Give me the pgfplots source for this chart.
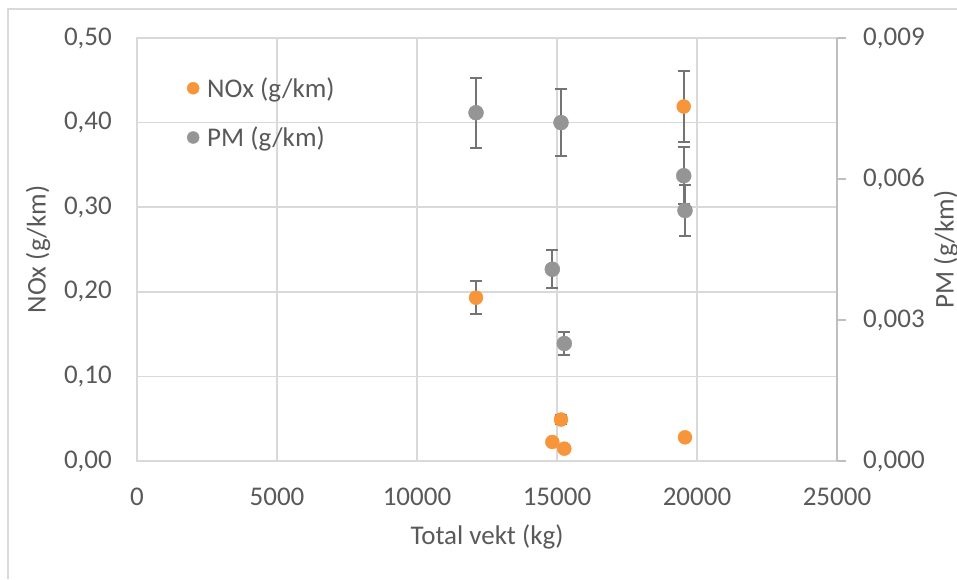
\documentclass[border=0pt]{standalone}
\usepackage{fontspec}
\setmainfont{Carlito}
\usepackage{pgfplots}
\pgfplotsset{compat=1.18}
\definecolor{nox}{HTML}{F7953A}
\definecolor{pm}{HTML}{959595}
\definecolor{errc}{HTML}{747474}
\definecolor{gridc}{HTML}{D9D9D9}
\definecolor{axc}{HTML}{BFBFBF}
\definecolor{txt}{HTML}{595959}
\newcommand\lbl{\fontsize{27}{32}\selectfont}
\begin{document}
\begin{tikzpicture}[x=1pt,y=1pt]
\useasboundingbox (0,0) rectangle (957,579);
\draw[gridc, line width=1.2pt] (8,0) -- (8,570) -- (957,570);
\begin{axis}[
  at={(137pt,118pt)}, anchor=south west,
  scale only axis, width=700pt, height=423pt,
  xmin=0, xmax=25000, ymin=0, ymax=0.5,
  xtick={0,5000,10000,15000,20000,25000},
  ytick={0,0.1,0.2,0.3,0.4,0.5},
  scaled ticks=false,
  xmajorgrids, ymajorgrids,
  grid style={gridc, line width=1.5pt},
  axis line style={gridc, line width=1.5pt},
  major tick length=0pt, tick style={draw=none},
  tick label style={font=\lbl, text=txt},
  /pgf/number format/assume math mode=true,
  yticklabel style={anchor=east, inner sep=0pt, xshift=-25pt,
    /pgf/number format/.cd, fixed, fixed zerofill, precision=2, use comma},
  xticklabel style={anchor=north, inner sep=0pt, yshift=-27pt,
    /pgf/number format/.cd, fixed, 1000 sep={}},
  xlabel={Total vekt (kg)}, ylabel={NOx (g/km)},
  xlabel style={at={(axis description cs:0.5,-0.18)}, anchor=center, font=\lbl, text=txt},
  ylabel style={at={(axis description cs:-0.1414,0.5)}, anchor=center, font=\lbl, text=txt},
]
\addplot[only marks, mark=*, mark size=7pt, color=nox,
  error bars/.cd, y dir=both, y fixed relative=0.1,
  error bar style={errc, line width=2pt},
  error mark options={rotate=90, errc, line width=2pt, mark size=6pt}]
  coordinates {
  (12107,0.193) (15143,0.049) (14832,0.0225)
  (15261,0.0146) (19525,0.419) (19571,0.028)
  };
\end{axis}
\begin{axis}[
  at={(137pt,118pt)}, anchor=south west,
  scale only axis, width=700pt, height=423pt,
  xmin=0, xmax=25000, ymin=0, ymax=0.009,
  axis x line=none, axis y line*=right,
  ytick={0,0.003,0.006,0.009},
  scaled ticks=false,
  y axis line style={axc, line width=1.5pt, -},
  ytick style={axc, line width=1.5pt},
  tick align=outside, major tick length=9pt,
  tick label style={font=\lbl, text=txt},
  /pgf/number format/assume math mode=true,
  yticklabel style={anchor=west, inner sep=0pt, xshift=17pt,
    /pgf/number format/.cd, fixed, fixed zerofill, precision=3, use comma},
  ylabel={PM (g/km)},
  ylabel style={at={(axis description cs:1.1557,0.5)}, anchor=center, font=\lbl, text=txt},
  legend style={at={(axis description cs:0.0714,0.823)}, anchor=west, draw=none, fill=none,
    font=\lbl, text=txt, inner sep=0pt, row sep=24pt, nodes={inner sep=2pt},
    /tikz/every odd column/.append style={column sep=6pt}},
  legend cell align=left,
  legend image post style={mark size=6pt},
]
\addlegendimage{only marks, mark=*, color=nox, mark size=7pt}
\addlegendentry{NOx (g/km)}
\addplot[only marks, mark=*, mark size=7.5pt, color=pm,
  error bars/.cd, y dir=both, y fixed relative=0.1,
  error bar style={errc, line width=2pt},
  error mark options={rotate=90, errc, line width=2pt, mark size=6pt}]
  coordinates {
  (12107,0.00741) (15143,0.00720) (14832,0.00408)
  (15261,0.00250) (19525,0.00607) (19571,0.00533)
  };
\addlegendentry{PM (g/km)}
\end{axis}
\end{tikzpicture}
\end{document}
